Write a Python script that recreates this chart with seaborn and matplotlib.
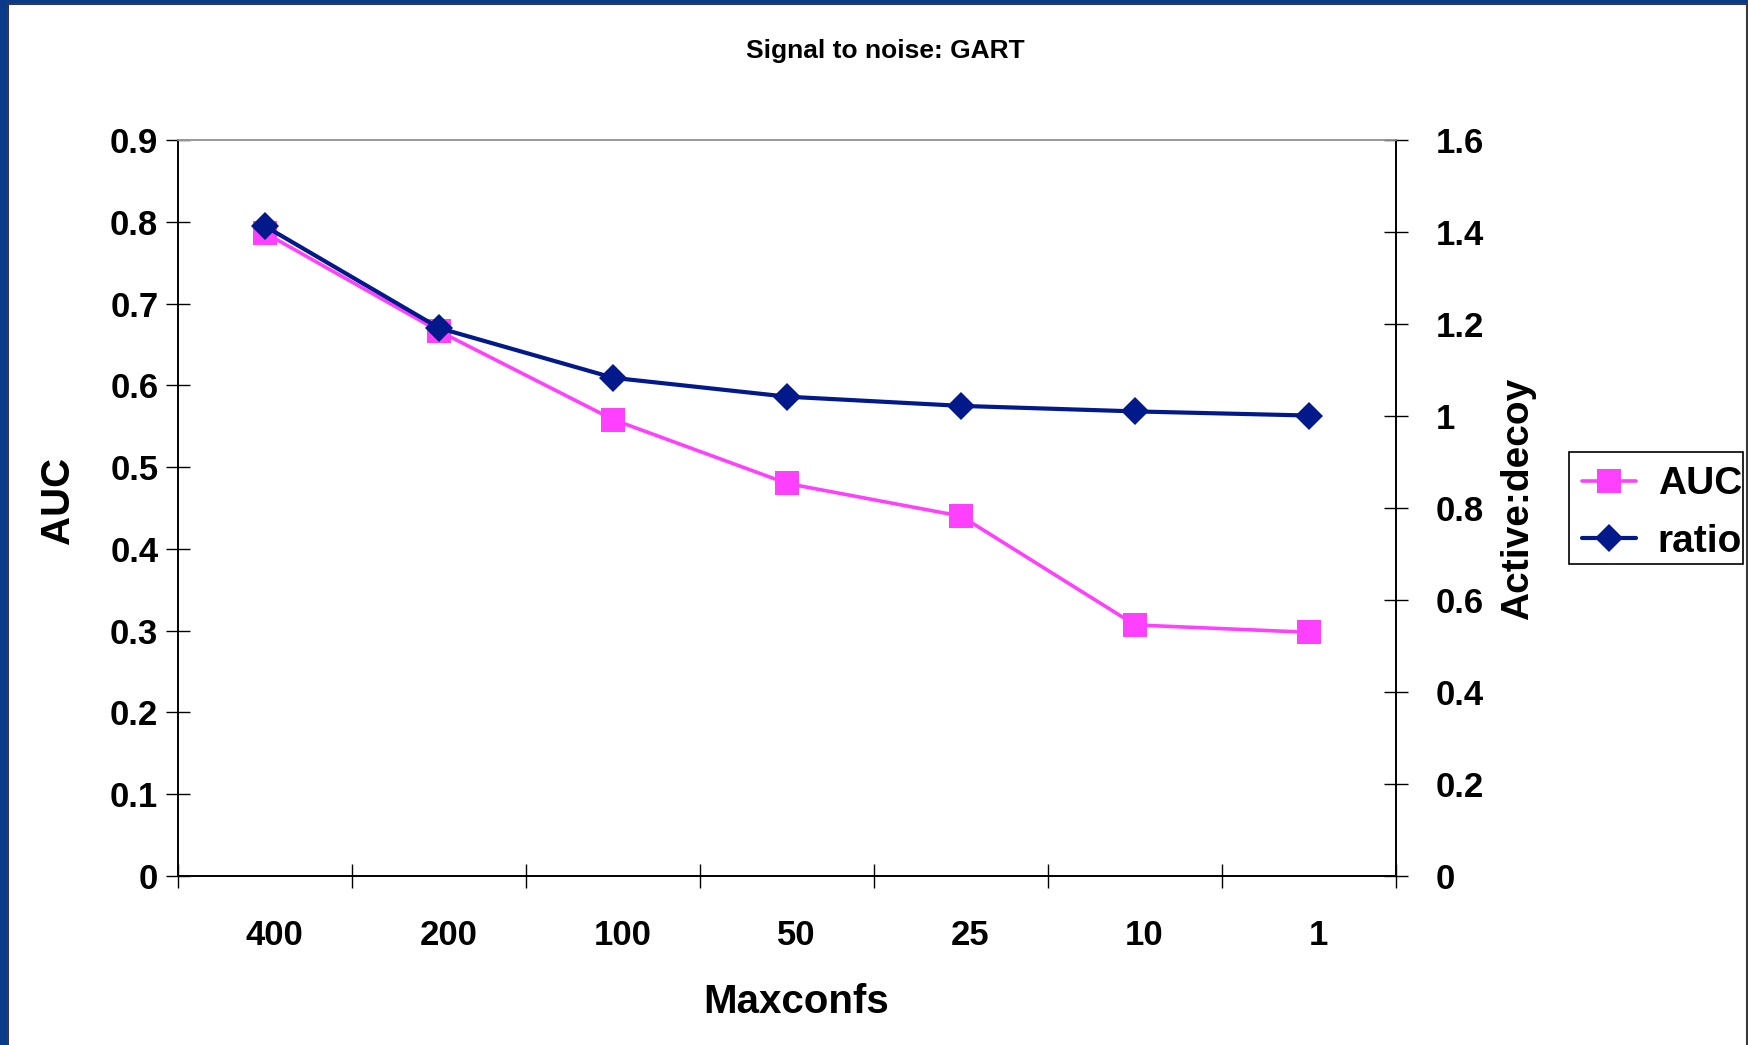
import matplotlib
matplotlib.use("Agg")
import matplotlib.pyplot as plt
import matplotlib.transforms as mtransforms
from matplotlib.patches import Rectangle
from matplotlib.lines import Line2D
import seaborn as sns
import pandas as pd

# Data
maxconfs = ["400", "200", "100", "50", "25", "10", "1"]
auc = [0.786, 0.666, 0.558, 0.480, 0.440, 0.307, 0.298]
ratio = [1.412, 1.191, 1.083, 1.042, 1.022, 1.010, 1.001]

auc_ticks = [0, 0.1, 0.2, 0.3, 0.4, 0.5, 0.6, 0.7, 0.8, 0.9]
auc_tick_labels = ["0", "0.1", "0.2", "0.3", "0.4", "0.5", "0.6", "0.7", "0.8", "0.9"]
ratio_ticks = [0, 0.2, 0.4, 0.6, 0.8, 1.0, 1.2, 1.4, 1.6]
ratio_tick_labels = ["0", "0.2", "0.4", "0.6", "0.8", "1", "1.2", "1.4", "1.6"]

PINK = "#FF40FF"
NAVY = "#02198B"
BORDER_BLUE = "#0B3A88"

sns.set_theme(style="white")
plt.rcParams["font.family"] = ["Liberation Sans", "DejaVu Sans"]
plt.rcParams["font.weight"] = "bold"
plt.rcParams["text.color"] = "black"
plt.rcParams["xtick.color"] = "black"
plt.rcParams["ytick.color"] = "black"
plt.rcParams["axes.labelcolor"] = "black"

df = pd.DataFrame({"Maxconfs": maxconfs, "AUC": auc, "ratio": ratio})
df["pos"] = range(len(df))

fig = plt.figure(figsize=(17.49, 10.45), dpi=100, facecolor=BORDER_BLUE)

# White slide panel inside the blue frame
W, H = 1749.0, 1045.0
panel = Rectangle((8 / W, -0.01), (1747 - 8) / W, (1041) / H + 0.01,
                  transform=fig.transFigure, facecolor="white",
                  edgecolor="#3a3a3a", linewidth=1.5, zorder=-10)
fig.patches.append(panel)

ax = fig.add_axes([178.5 / W, 169 / H, (1396 - 178.5) / W, (905 - 169) / H])
ax.set_facecolor("none")
ax2 = ax.twinx()
ax2.set_facecolor("none")

AUC_LW, RATIO_LW = 2.6, 3.0
AUC_MS, RATIO_MS = 17, 14

sns.lineplot(data=df, x="pos", y="AUC", ax=ax, color=PINK, linewidth=AUC_LW,
             marker="s", markersize=AUC_MS, markeredgewidth=0, legend=False)
sns.lineplot(data=df, x="pos", y="ratio", ax=ax2, color=NAVY, linewidth=RATIO_LW,
             marker="D", markersize=RATIO_MS, markeredgewidth=0, legend=False)

n = len(maxconfs)
ax.set_xlim(-0.5, n - 0.5)
ax.set_ylim(0, 0.9)
ax2.set_ylim(0, 1.6)

# Category boundaries carry the tick marks; labels sit on the categories
ax.set_xticks([i - 0.5 for i in range(n + 1)])
ax.set_xticklabels([""] * (n + 1))
ax.set_xticks(list(range(n)), minor=True)
ax.set_xticklabels(maxconfs, minor=True)
ax.tick_params(axis="x", which="major", direction="inout", length=17, width=1,
               color="black", bottom=True)
ax.tick_params(axis="x", which="minor", length=0, pad=31, labelsize=25)
offset = mtransforms.ScaledTranslation(9 / 100, 0, fig.dpi_scale_trans)
for lbl in ax.get_xticklabels(minor=True):
    lbl.set_transform(lbl.get_transform() + offset)
    lbl.set_fontweight("bold")

ax.set_yticks(auc_ticks)
ax.set_yticklabels(auc_tick_labels, fontsize=25, fontweight="bold")
ax.tick_params(axis="y", direction="inout", length=17, width=1, color="black",
               left=True, pad=6)

ax2.set_yticks(ratio_ticks)
ax2.set_yticklabels(ratio_tick_labels, fontsize=25, fontweight="bold")
ax2.tick_params(axis="y", direction="inout", length=17, width=1, color="black",
                right=True, pad=20)

for a in (ax, ax2):
    for side in ("left", "right", "bottom"):
        a.spines[side].set_color("black")
        a.spines[side].set_linewidth(1.2)
    a.spines["top"].set_color("#999999")
    a.spines["top"].set_linewidth(1.2)
    a.grid(False)

ax.set_xlabel("")
ax.set_ylabel("")
ax2.set_ylabel("")

fig.text(796 / W, 1 - 1002 / H, "Maxconfs", ha="center", va="center",
         fontsize=29, fontweight="bold")
fig.text(58 / W, 1 - 500 / H, "AUC", ha="center", va="center", rotation=90,
         fontsize=29, fontweight="bold")
fig.text(1518 / W, 1 - 499 / H, "Active:decoy", ha="center", va="center",
         rotation=90, fontsize=28, fontweight="bold")
fig.text(885 / W, 1 - 51 / H, "Signal to noise: GART", ha="center",
         va="center", fontsize=19, fontweight="bold")

# Legend with a fixed frame that clips its labels
frame = Rectangle((1569 / W, 1 - 564 / H), (1743 - 1569) / W, (564 - 452) / H,
                  transform=fig.transFigure, facecolor="white",
                  edgecolor="black", linewidth=1.2, zorder=5)
fig.patches.append(frame)
handles = [
    Line2D([], [], color=PINK, linewidth=AUC_LW, marker="s", markersize=AUC_MS,
           markeredgewidth=0),
    Line2D([], [], color=NAVY, linewidth=RATIO_LW, marker="D",
           markersize=RATIO_MS, markeredgewidth=0),
]
leg = fig.legend(handles, ["AUC", "ratio"], loc="center left",
                 bbox_to_anchor=(1582 / W, 1 - 513 / H), frameon=False,
                 borderpad=0, borderaxespad=0, handlelength=1.4,
                 handletextpad=0.55, labelspacing=0.55,
                 prop={"size": 28, "weight": "bold"})
leg.set_zorder(6)
fig.canvas.draw()
clip = mtransforms.TransformedBbox(
    mtransforms.Bbox.from_extents(1569 / W, 1 - 564 / H, 1742 / W, 1 - 452 / H),
    fig.transFigure)
for t in leg.get_texts():
    t.set_clip_box(clip)
    t.set_clip_on(True)

fig.savefig("out.png", dpi=100, facecolor=fig.get_facecolor())
